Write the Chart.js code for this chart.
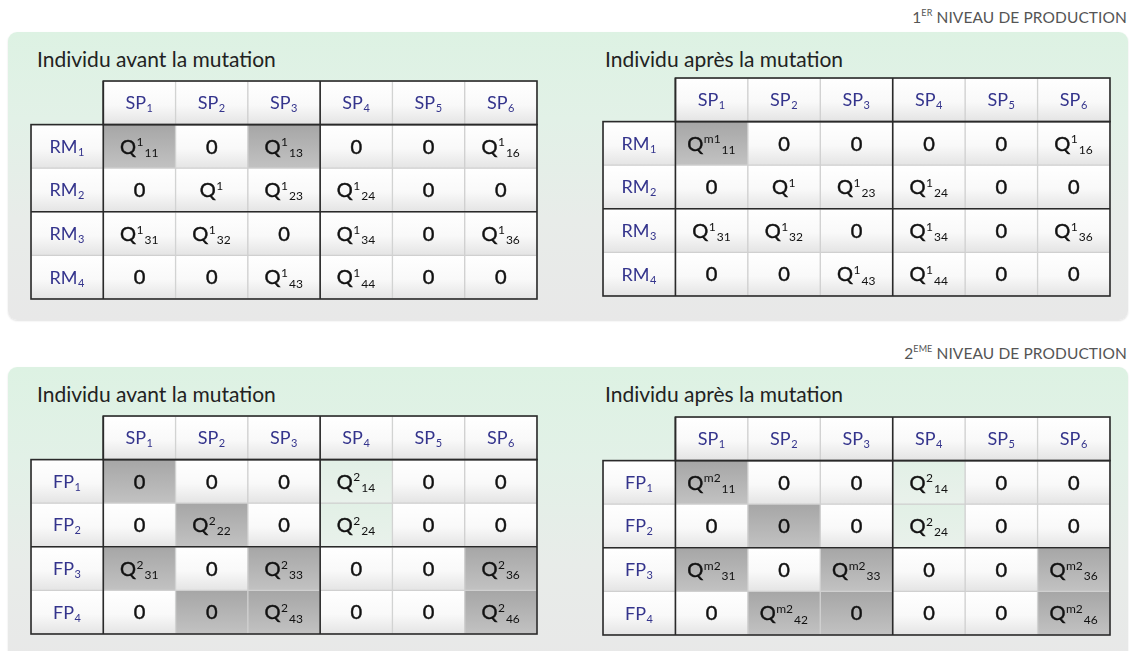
<!DOCTYPE html>
<html><head><meta charset="utf-8">
<script src="https://cdn.jsdelivr.net/npm/chart.js@4.4.1/dist/chart.umd.min.js"></script>
<style>
html,body{margin:0;padding:0;background:#fff;width:1132px;height:651px;overflow:hidden;font-family:Lato,'Open Sans',sans-serif;}
.panel{position:absolute;left:8px;width:1120px;border-radius:9px;background:linear-gradient(to bottom,#ddf2e3 0%,#e2f1e7 30%,#e8ece9 65%,#e8e8e8 100%);box-shadow:0 1px 2px rgba(0,0,0,0.12);}
.level{position:absolute;right:5px;font-size:15.5px;color:#555;letter-spacing:0.1px;white-space:nowrap;}
.level sup{font-size:9px;vertical-align:top;position:relative;top:-1px;}
.title{position:absolute;font-size:21px;color:#222;white-space:nowrap;}
canvas{position:absolute;}
</style></head>
<body>
<div class="level" style="top:8px;">1<sup>ER</sup> NIVEAU DE PRODUCTION</div>
<div class="panel" style="top:32px;height:288px;"></div>
<div class="title" style="left:37px;top:46px;">Individu avant la mutation</div>
<div class="title" style="left:605px;top:46px;">Individu après la mutation</div>
<canvas id="c1" width="512" height="224" style="left:28px;top:78px;"></canvas>
<canvas id="c2" width="513" height="224" style="left:600px;top:75px;"></canvas>

<div class="level" style="top:344px;">2<sup>EME</sup> NIVEAU DE PRODUCTION</div>
<div class="panel" style="top:367px;height:300px;"></div>
<div class="title" style="left:37px;top:381px;">Individu avant la mutation</div>
<div class="title" style="left:605px;top:381px;">Individu après la mutation</div>
<canvas id="c3" width="512" height="224" style="left:28px;top:413px;"></canvas>
<canvas id="c4" width="513" height="224" style="left:600px;top:414px;"></canvas>

<script>
// ---- data ----
const spLabels = ['SP_1','SP_2','SP_3','SP_4','SP_5','SP_6'];
const rmLabels = ['RM_1','RM_2','RM_3','RM_4'];
const fpLabels = ['FP_1','FP_2','FP_3','FP_4'];

const avant1 = [
  ['Q^1_11','0','Q^1_13','0','0','Q^1_16'],
  ['0','Q^1','Q^1_23','Q^1_24','0','0'],
  ['Q^1_31','Q^1_32','0','Q^1_34','0','Q^1_36'],
  ['0','0','Q^1_43','Q^1_44','0','0']
];
const avant1Shade = ['gwgwww','wwwwww','wwwwww','wwwwww'];

const apres1 = [
  ['Q^m1_11','0','0','0','0','Q^1_16'],
  ['0','Q^1','Q^1_23','Q^1_24','0','0'],
  ['Q^1_31','Q^1_32','0','Q^1_34','0','Q^1_36'],
  ['0','0','Q^1_43','Q^1_44','0','0']
];
const apres1Shade = ['gwwwww','wwwwww','wwwwww','wwwwww'];

const avant2 = [
  ['0','0','0','Q^2_14','0','0'],
  ['0','Q^2_22','0','Q^2_24','0','0'],
  ['Q^2_31','0','Q^2_33','0','0','Q^2_36'],
  ['0','0','Q^2_43','0','0','Q^2_46']
];
const avant2Shade = ['gwwlww','wgwlww','gwgwwg','wggwwg'];

const apres2 = [
  ['Q^m2_11','0','0','Q^2_14','0','0'],
  ['0','0','0','Q^2_24','0','0'],
  ['Q^m2_31','0','Q^m2_33','0','0','Q^m2_36'],
  ['0','Q^m2_42','0','0','0','Q^m2_46']
];
const apres2Shade = ['gwwlww','wgwlww','gwgwwg','wggwwg'];

// ---- helpers ----
const FONT = 'Lato, "Open Sans", sans-serif';
function parseRich(s){
  let base=s, sup='', sub='';
  const i=base.indexOf('_'); if(i>=0){sub=base.slice(i+1); base=base.slice(0,i);}
  const j=base.indexOf('^'); if(j>=0){sup=base.slice(j+1); base=base.slice(0,j);}
  return {base,sup,sub};
}
function drawRich(ctx,s,cx,cy,size,color,thick){
  const p=parseRich(s);
  const ss=Math.round(size*0.6);
  ctx.font=size+'px '+FONT; const wb=ctx.measureText(p.base).width;
  ctx.font=ss+'px '+FONT;
  const wsup=p.sup?ctx.measureText(p.sup).width+1:0;
  const wsub=p.sub?ctx.measureText(p.sub).width+1:0;
  let x=cx-(wb+wsup+wsub)/2;
  const by=cy+size*0.36;
  ctx.fillStyle=color; ctx.strokeStyle=color; ctx.lineWidth=0.45;
  ctx.textAlign='left'; ctx.textBaseline='alphabetic';
  ctx.font=size+'px '+FONT; ctx.fillText(p.base,x,by);
  if(thick) ctx.strokeText(p.base,x,by);
  x+=wb+0.5;
  ctx.font=ss+'px '+FONT;
  if(p.sup){ctx.fillText(p.sup,x,by-size*0.36); x+=wsup;}
  if(p.sub){ctx.fillText(p.sub,x,by+size*0.16);}
}
function cellFill(chart,r,kind){
  const y=chart.scales.y;
  const solid={g:'#b4b4b4',l:'#e6f1e9',w:'#f6f6f6'}[kind];
  if(!y) return solid;
  const y0=y.getPixelForValue(r), y1=y.getPixelForValue(r+1);
  if(!isFinite(y0)||!isFinite(y1)) return solid;
  const g=chart.ctx.createLinearGradient(0,y0,0,y1);
  if(kind==='g'){g.addColorStop(0,'#a6a6a6');g.addColorStop(1,'#c2c2c2');}
  else if(kind==='l'){g.addColorStop(0,'#e2f0e6');g.addColorStop(1,'#e9f1eb');}
  else {g.addColorStop(0,'#ffffff');g.addColorStop(0.55,'#f9f9f9');g.addColorStop(1,'#e4e4e4');}
  return g;
}

function makeTable(id, rowLabels, cells, shades){
  const nCols=7, nRows=5;
  const datasets=[];
  for(let r=0;r<nRows;r++){
    const data=[];
    for(let c=0;c<nCols;c++) data.push((r===0&&c===0)?null:[r,r+1]);
    datasets.push({
      data,
      grouped:false,
      barPercentage:1, categoryPercentage:1,
      borderWidth:1, borderColor:'#d0d0d0', borderSkipped:false,
      backgroundColor:(ctx)=>{
        const c=ctx.dataIndex;
        let kind='w';
        if(r>0&&c>0) kind=shades[r-1][c-1];
        return cellFill(ctx.chart,r,kind);
      }
    });
  }
  const textPlugin={
    id:'tableText',
    afterDatasetsDraw(chart){
      const ctx=chart.ctx, xs=chart.scales.x, ys=chart.scales.y;
      const half=(xs.getPixelForValue(1)-xs.getPixelForValue(0))/2;
      const xe=(c)=>xs.getPixelForValue(c)-half;
      const ye=(r)=>ys.getPixelForValue(r);
      ctx.save();
      ctx.strokeStyle='#2a2a2a'; ctx.lineWidth=1.6;
      ctx.strokeRect(xe(1),ye(0),xe(7)-xe(1),ye(1)-ye(0));
      ctx.strokeRect(xe(0),ye(1),xe(7)-xe(0),ye(5)-ye(1));
      ctx.beginPath();
      ctx.moveTo(xe(1),ye(0)); ctx.lineTo(xe(1),ye(5));
      ctx.moveTo(xe(4),ye(0)); ctx.lineTo(xe(4),ye(5));
      ctx.moveTo(xe(0),ye(3)); ctx.lineTo(xe(7),ye(3));
      ctx.stroke();
      for(let c=1;c<nCols;c++) drawRich(ctx,spLabels[c-1],xs.getPixelForValue(c),ys.getPixelForValue(0.5),18,'#34348c',false);
      for(let r=1;r<nRows;r++){
        drawRich(ctx,rowLabels[r-1],xs.getPixelForValue(0),ys.getPixelForValue(r+0.5),18,'#34348c',false);
        for(let c=1;c<nCols;c++) drawRich(ctx,cells[r-1][c-1],xs.getPixelForValue(c),ys.getPixelForValue(r+0.5),20,'#111',true);
      }
      ctx.restore();
    }
  };
  new Chart(document.getElementById(id),{
    type:'bar',
    data:{labels:['','1','2','3','4','5','6'],datasets},
    options:{
      responsive:false, animation:false, events:[],
      layout:{padding:3},
      plugins:{legend:{display:false},tooltip:{enabled:false}},
      scales:{
        x:{display:false,offset:true},
        y:{display:false,min:0,max:5,reverse:true}
      }
    },
    plugins:[textPlugin]
  });
}
makeTable('c1',rmLabels,avant1,avant1Shade);
makeTable('c2',rmLabels,apres1,apres1Shade);
makeTable('c3',fpLabels,avant2,avant2Shade);
makeTable('c4',fpLabels,apres2,apres2Shade);
</script>
</body></html>
